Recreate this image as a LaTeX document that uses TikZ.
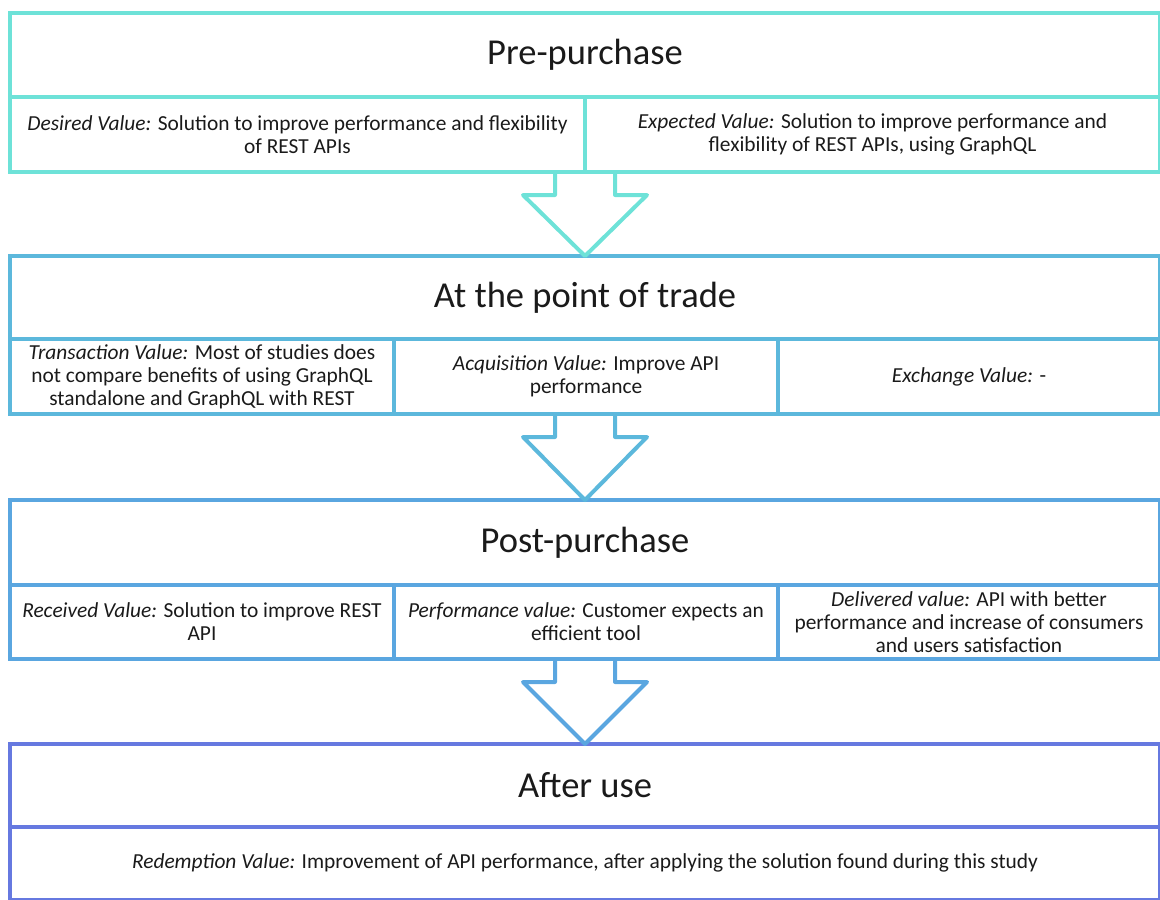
\documentclass[tikz,border=0pt]{standalone}
\usepackage{fontspec}
\setmainfont{Carlito}
\usetikzlibrary{calc}
\definecolor{stageA}{HTML}{6EE2D8}
\definecolor{stageB}{HTML}{5CB8DC}
\definecolor{stageC}{HTML}{5AA6E0}
\definecolor{stageD}{HTML}{6679E0}
\definecolor{ink}{HTML}{1A1A1A}
\tikzset{
  frame/.style={draw=#1, line width=4pt, rectangle, inner sep=0pt, outer sep=0pt, text=ink},
  titlebox/.style={frame=#1, font=\fontsize{36.5}{40}\selectfont},
  cellbox/.style={frame=#1, align=center, font=\fontsize{21.4}{23}\selectfont},
  flow/.style={draw=#1, line width=4pt, line join=round, line cap=round}
}
% arrow between stages: #1 = point on the bottom edge of the upper stage, #2 = lower title node
\newcommand\stagearrow[3]{%
  \draw[flow=#3] ($(#1)+(-30,0)$) -- ++(0,23) -- ++(-32,0) -- (#2.north)
    -- ($(#1)+(62,23)$) -- ++(-32,0) -- ++(0,-23);
}
\begin{document}
\begin{tikzpicture}[x=1pt,y=-1pt]
\useasboundingbox (0,0) rectangle (1160,900);

% Stage 1: pre-purchase
\node[titlebox=stageA, minimum width=1150pt, minimum height=84pt] (t1) at (585,55) {Pre-purchase};
\node[cellbox=stageA, minimum width=575pt, minimum height=75pt] (r1a) at (297.5,134.5)
  {\textit{Desired Value:} Solution to improve performance and flexibility\\of REST APIs};
\node[cellbox=stageA, minimum width=575pt, minimum height=75pt] (r1b) at (872.5,134.5)
  {\textit{Expected Value:} Solution to improve performance and\\flexibility of REST APIs, using GraphQL};

% Stage 2: at the point of trade
\node[titlebox=stageB, minimum width=1150pt, minimum height=83pt] (t2) at (585,297.5) {At the point of trade};
\node[cellbox=stageB, minimum width=384pt, minimum height=75pt] (r2a) at (202,376.5)
  {\textit{Transaction Value:} Most of studies does\\not compare benefits of using GraphQL\\standalone and GraphQL with REST};
\node[cellbox=stageB, minimum width=384pt, minimum height=75pt] (r2b) at (586,376.5)
  {\textit{Acquisition Value:} Improve API\\performance};
\node[cellbox=stageB, minimum width=382pt, minimum height=75pt] (r2c) at (969,376.5)
  {\textit{Exchange Value:} -};

% Stage 3: post-purchase
\node[titlebox=stageC, minimum width=1150pt, minimum height=85pt] (t3) at (585,542.5) {Post-purchase};
\node[cellbox=stageC, minimum width=384pt, minimum height=74pt] (r3a) at (202,622)
  {\textit{Received Value:} Solution to improve REST\\API};
\node[cellbox=stageC, minimum width=384pt, minimum height=74pt] (r3b) at (586,622)
  {\textit{Performance value:} Customer expects an\\efficient tool};
\node[cellbox=stageC, minimum width=382pt, minimum height=74pt] (r3c) at (969,622)
  {\textit{Delivered value:} API with better\\performance and increase of consumers\\and users satisfaction};

% Stage 4: after use
\node[titlebox=stageD, minimum width=1150pt, minimum height=83pt] (t4) at (585,785.5) {After use};
\node[cellbox=stageD, minimum width=1150pt, minimum height=72.5pt] (r4) at (585,863.25)
  {\textit{Redemption Value:} Improvement of API performance, after applying the solution found during this study};

% arrows between stages
\stagearrow{t2.north |- r1a.south}{t2}{stageA}
\stagearrow{t3.north |- r2b.south}{t3}{stageB}
\stagearrow{t4.north |- r3b.south}{t4}{stageC}
\end{tikzpicture}
\end{document}
